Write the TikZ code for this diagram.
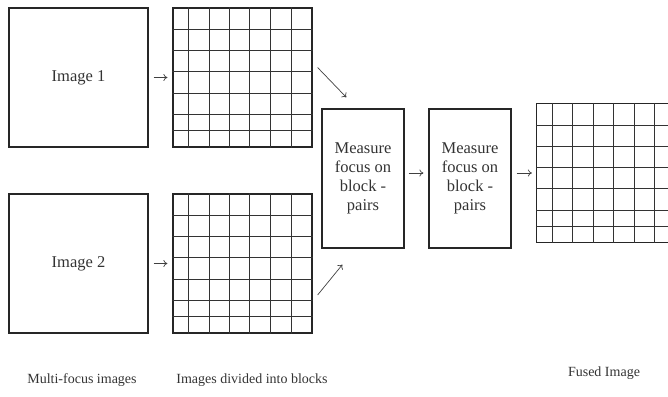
\documentclass[tikz,border=0pt]{standalone}
\usepackage{fontspec}
\setmainfont{Liberation Serif}
\usetikzlibrary{arrows.meta,positioning}

\begin{document}
\begin{tikzpicture}[x=1pt,y=-1pt,font=\fontsize{16.5}{19}\selectfont,
  every node/.style={text=black!80,align=center},
  imgbox/.style={draw=black!85,line width=1.2pt,minimum width=139pt,minimum height=139pt,inner sep=0pt},
  gridbox/.style={imgbox},
  stepbox/.style={draw=black!85,line width=1.2pt,minimum width=82pt,minimum height=139pt,inner sep=0pt},
  gridline/.style={draw=black!80,line width=.8pt},
  flow/.style={-{To[length=4pt,width=7pt]},black!75,line width=.7pt},
  caption/.style={font=\fontsize{14}{16}\selectfont}]

  \useasboundingbox (0,0) rectangle (668,396);

  % offsets of the inner block lines
  \def \cols {16,36.5,57,77,98,118.5}
  \def \rows {22,43,64,85.5,107,123}

  % input images
  \node[imgbox] (img1) at (78.5,77.5) {Image 1};
  \node[imgbox] (img2) at (78.5,263.5) {Image 2};

  % images split into blocks
  \node[gridbox] (blk1) at (242.5,77.5) {};
  \node[gridbox] (blk2) at (242.5,263.5) {};
  \foreach \g in {blk1,blk2}{
    \foreach \dx in \cols
      \draw[gridline] ([xshift=\dx pt]\g.north west) -- ([xshift=\dx pt]\g.south west);
    \foreach \dy in \rows
      \draw[gridline] ([yshift=-\dy pt]\g.north west) -- ([yshift=-\dy pt]\g.north east);
  }

  % focus measure steps
  \node[stepbox] (meas1) at (363,178.5) {Measure\\focus on\\block -\\pairs};
  \node[stepbox] (meas2) at (470,178.5) {Measure\\focus on\\block -\\pairs};

  % fused result, runs off the right edge
  \begin{scope}
    \clip (0,0) rectangle (668,396);
    \node[gridbox] (fused) at (606,173) {};
    \foreach \dx in \cols
      \draw[gridline] ([xshift=\dx pt]fused.north west) -- ([xshift=\dx pt]fused.south west);
    \foreach \dy in \rows
      \draw[gridline] ([yshift=-\dy pt]fused.north west) -- ([yshift=-\dy pt]fused.north east);
  \end{scope}

  % arrows
  \draw[flow,shorten <=5pt,shorten >=5pt] (img1) -- (blk1);
  \draw[flow,shorten <=5pt,shorten >=5pt] (img2) -- (blk2);
  \draw[flow] ([shift={(5,-10)}]blk1.east) -- ([shift={(25,-11)}]meas1.north west);
  \draw[flow] ([shift={(5,31.5)}]blk2.east) -- ([shift={(21,16)}]meas1.south west);
  \draw[flow,shorten <=4pt,shorten >=5pt] ([yshift=5.5pt]meas1.east) -- ([yshift=5.5pt]meas2.west);
  \draw[flow,shorten <=5pt,shorten >=4pt] ([yshift=5.5pt]meas2.east) -- (fused.west);

  % captions
  \node[caption] (cap1) at (82,380) {Multi-focus images};
  \node[caption] (cap2) at (252,380) {Images divided into blocks};
  \node[caption] (cap3) at (604,373) {Fused Image};

\end{tikzpicture}
\end{document}
